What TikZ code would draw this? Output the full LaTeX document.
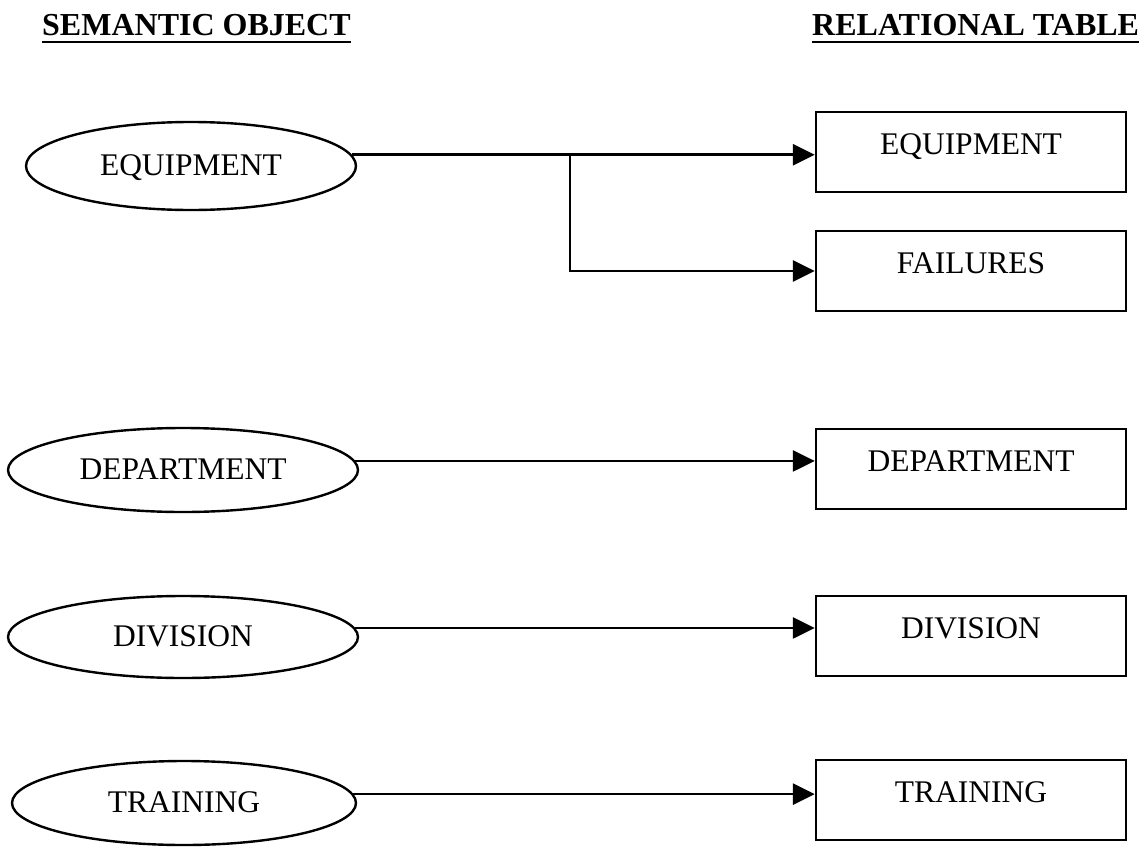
\documentclass[tikz,border=0pt]{standalone}
\usepackage{fontspec}
\setmainfont{Liberation Serif}
\usetikzlibrary{shapes.geometric,arrows.meta}
\begin{document}
\begin{tikzpicture}[x=1pt,y=-1pt,
  heading/.style={inner sep=0pt,anchor=base west,font=\fontsize{32}{36}\selectfont\bfseries},
  semobj/.style={draw,ellipse,line width=2.4pt,inner sep=0pt,
    font=\fontsize{31.5}{36}\selectfont,text height=22pt,text depth=4pt},
  reltab/.style={draw,rectangle,line width=2.4pt,inner sep=0pt,
    minimum width=310pt,minimum height=80pt,
    font=\fontsize{31.5}{36}\selectfont,text height=22pt,text depth=18pt},
  link/.style={line width=2.6pt,-{Triangle[length=22pt,width=21pt]}}]
\useasboundingbox (0,0) rectangle (1140,867);

% column headings
\node[heading] (hsem) at (42,36) {SEMANTIC OBJECT};
\node[heading] (hrel) at (812,36) {RELATIONAL TABLE};
\draw[line width=2.6pt] ([yshift=-6pt]hsem.base west) -- ([yshift=-6pt]hsem.base east);
\draw[line width=2.6pt] ([yshift=-6pt]hrel.base west) -- ([yshift=-6pt]hrel.base east);

% semantic objects
\node[semobj,minimum width=330pt,minimum height=88pt] (eqo) at (191,166) {EQUIPMENT};
\node[semobj,minimum width=350pt,minimum height=84pt] (dpo) at (183,470) {DEPARTMENT};
\node[semobj,minimum width=350pt,minimum height=82pt] (dvo) at (183,637) {DIVISION};
\node[semobj,minimum width=344pt,minimum height=84pt] (tro) at (184,803) {TRAINING};

% relational tables
\node[reltab] (eqt) at (971,152) {EQUIPMENT};
\node[reltab] (fat) at (971,271) {FAILURES};
\node[reltab] (dpt) at (971,469) {DEPARTMENT};
\node[reltab] (dvt) at (971,636) {DIVISION};
\node[reltab] (trt) at (971,800) {TRAINING};

% mappings
\coordinate (br) at (570,0);
\draw[link] (eqo.4) -- (eqo.4 -| eqt.west);
\draw[link] (eqo.4 -| br) |- (fat.west);
\draw[link] (dpo.3) -- (dpo.3 -| dpt.west);
\draw[link] (dvo.3) -- (dvo.3 -| dvt.west);
\draw[link] (tro.3) -- (tro.3 -| trt.west);
\end{tikzpicture}
\end{document}
